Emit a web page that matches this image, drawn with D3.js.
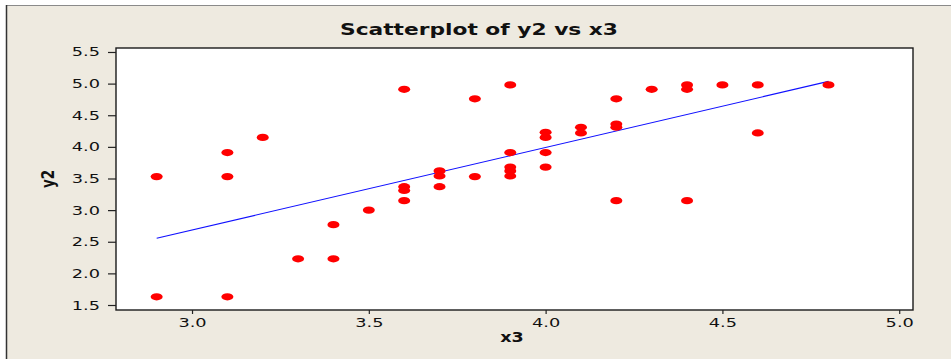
<!DOCTYPE html>
<html>
<head>
<meta charset="utf-8">
<style>
  html, body { margin: 0; padding: 0; background: #fff; }
  svg { display: block; }
  text { font-family: "DejaVu Sans", Verdana, sans-serif; fill: #111; }
</style>
</head>
<body>
<svg id="chart"></svg>
<script src="https://d3js.org/d3.v7.min.js"></script>
<script>

// values
let x3 = [2.9, 3.1, 3.1, 3.2, 2.9, 3.1, 3.3, 3.4, 3.4,
          3.5, 3.6, 3.6, 3.6, 3.6, 3.7, 3.7, 3.7, 3.8, 3.8,
          3.9, 3.9, 3.9, 3.9, 3.9, 4.0, 4.0, 4.0, 4.0,
          4.1, 4.1, 4.2, 4.2, 4.2, 4.2, 4.3, 4.4, 4.4, 4.4,
          4.5, 4.6, 4.6, 4.8];
let y2 = [3.53, 3.53, 3.91, 4.15, 1.63, 1.63, 2.23, 2.23, 2.77,
          3.00, 4.91, 3.37, 3.31, 3.15, 3.62, 3.54, 3.37, 4.76, 3.53,
          4.98, 3.91, 3.68, 3.62, 3.54, 4.23, 4.15, 3.91, 3.68,
          4.31, 4.22, 4.76, 4.36, 4.31, 3.15, 4.91, 4.98, 4.91, 3.15,
          4.98, 4.98, 4.22, 4.98];

// fitted line ends
let fitX = [2.9, 4.8];
let fitY = [2.555, 5.035];

let xTicks = [3.0, 3.5, 4.0, 4.5, 5.0];
let yTicks = [1.5, 2.0, 2.5, 3.0, 3.5, 4.0, 4.5, 5.0, 5.5];

let width = 951,
    height = 359;

let plot = {left: 116, top: 48, right: 913, bottom: 310};
let sx = 1.42; // text in the reference is stretched sideways

let svg = d3.select("#chart")
    .attr("width", width)
    .attr("height", height);

// outer panel
svg.append("rect")
    .attr("x", 7).attr("y", 5)
    .attr("width", width - 7).attr("height", height - 5)
    .attr("fill", "#eeeae0");
svg.append("line")
    .attr("x1", 7).attr("x2", width).attr("y1", 5.5).attr("y2", 5.5)
    .attr("stroke", "#8a8a8a").attr("stroke-width", 1.2);
svg.append("line")
    .attr("x1", 6.5).attr("x2", 6.5).attr("y1", 5).attr("y2", height)
    .attr("stroke", "#333").attr("stroke-width", 1.5);

let x = d3.scaleLinear()
    .domain([2.785, 5.039])
    .range([plot.left, plot.right]);

let y = d3.scaleLinear()
    .domain([1.421, 5.563])
    .range([plot.bottom, plot.top]);

// plot area
svg.append("rect")
    .attr("x", plot.left).attr("y", plot.top)
    .attr("width", plot.right - plot.left)
    .attr("height", plot.bottom - plot.top)
    .attr("fill", "#fff")
    .attr("stroke", "#1a1a1a")
    .attr("stroke-width", 1.4);

// axes
let xAxis = svg.append("g")
    .attr("transform", "translate(0," + plot.bottom + ")")
    .call(d3.axisBottom(x).tickValues(xTicks).tickFormat(d3.format(".1f")).tickSize(4).tickSizeOuter(0));

let yAxis = svg.append("g")
    .attr("transform", "translate(" + plot.left + ",0)")
    .call(d3.axisLeft(y).tickValues(yTicks).tickFormat(d3.format(".1f")).tickSize(8).tickSizeOuter(0));

[xAxis, yAxis].forEach(g => {
  g.select(".domain").remove();
  g.selectAll(".tick line").attr("stroke", "#222").attr("stroke-width", 1.2);
  g.selectAll(".tick text")
    .attr("font-family", "DejaVu Sans, Verdana, sans-serif")
    .attr("font-size", 12.5)
    .attr("fill", "#111");
});

xAxis.selectAll(".tick text")
    .attr("y", 0).attr("dy", "0.71em")
    .attr("transform", "translate(0,8) scale(" + sx + ",1)");

yAxis.selectAll(".tick text")
    .attr("x", 0).attr("dy", "0.32em")
    .attr("transform", "translate(-16,0) scale(" + sx + ",1)");

// fitted line
svg.append("line")
    .attr("x1", x(fitX[0])).attr("y1", y(fitY[0]))
    .attr("x2", x(fitX[1])).attr("y2", y(fitY[1]))
    .attr("stroke", "#1010ff")
    .attr("stroke-width", 1.1);

// points
svg.append("g")
  .selectAll("ellipse")
  .data(x3.map((d, i) => ({x: d, y: y2[i]})))
  .enter()
  .append("ellipse")
    .attr("cx", d => x(d.x))
    .attr("cy", d => y(d.y))
    .attr("rx", 6)
    .attr("ry", 3.6)
    .attr("fill", "#ff0000");

// title and axis labels
svg.append("text")
    .attr("transform", "translate(479,35) scale(1.36,1)")
    .attr("text-anchor", "middle")
    .attr("font-size", 16)
    .attr("font-weight", "bold")
    .text("Scatterplot of y2 vs x3");

svg.append("text")
    .attr("transform", "translate(512,342) scale(1.3,1)")
    .attr("text-anchor", "middle")
    .attr("font-size", 13.5)
    .attr("font-weight", "bold")
    .text("x3");

svg.append("text")
    .attr("transform", "translate(54,179) scale(1.3,1) rotate(-90)")
    .attr("text-anchor", "middle")
    .attr("font-size", 13.5)
    .attr("font-weight", "bold")
    .text("y2");

</script>
</body>
</html>
